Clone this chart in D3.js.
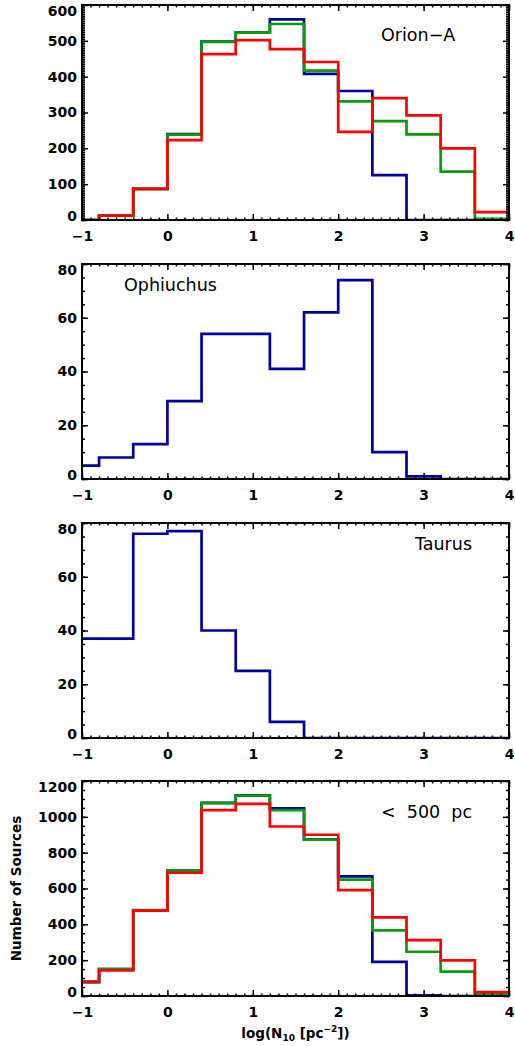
<!DOCTYPE html>
<html>
<head>
<meta charset="utf-8">
<script src="https://cdn.jsdelivr.net/npm/d3@7"></script>
<style>
  body { margin: 0; background: #fff; }
  text { font-family: "DejaVu Sans", sans-serif; }
</style>
</head>
<body>
<svg id="chart"></svg>
<script>
// bin edges of log(N10), width 0.4
const binEdges = [-1.2, -0.8, -0.4, 0.0, 0.4, 0.8, 1.2, 1.6, 2.0, 2.4, 2.8, 3.2, 3.6, 4.0];

// Orion-A
const orionBlue  = [0, 12, 87, 240, 498, 523, 560, 408, 360, 125, 0, 0, 0];
const orionGreen = [0, 12, 87, 238, 497, 523, 547, 417, 331, 276, 239, 135, 3];
const orionRed   = [0, 12, 87, 223, 463, 502, 477, 441, 246, 340, 292, 200, 22];

// Ophiuchus
const ophBlue = [5, 8, 13, 29, 54, 54, 41, 62, 74, 10, 1, 0, 0];

// Taurus
const taurusBlue = [37, 37, 76, 77, 40, 25, 6, 0, 0, 0, 0, 0, 0];

// < 500 pc
const allBlue  = [78, 150, 478, 700, 1078, 1120, 1048, 873, 668, 191, 3, 0, 0];
const allGreen = [78, 150, 480, 700, 1076, 1119, 1038, 873, 650, 366, 247, 136, 9];
const allRed   = [80, 143, 476, 688, 1037, 1072, 946, 900, 591, 439, 312, 199, 22];

const xTicks = [-1, 0, 1, 2, 3, 4];

const colBlue = "#00009c", colGreen = "#0a9a0a", colRed = "#ff0000";

const panels = [
  { name: "Orion\u2212A", top: 5, ymax: 600, step: 100, minor: 5,
    series: [[orionBlue, colBlue], [orionGreen, colGreen], [orionRed, colRed]],
    lx: 381, ly: 41 },
  { name: "Ophiuchus", top: 264, ymax: 80, step: 20, minor: 5,
    series: [[ophBlue, colBlue]], lx: 124, ly: 291 },
  { name: "Taurus", top: 523, ymax: 80, step: 20, minor: 5,
    series: [[taurusBlue, colBlue]], lx: 415, ly: 550 },
  { name: "<  500  pc", top: 781, ymax: 1200, step: 200, minor: 50,
    series: [[allBlue, colBlue], [allGreen, colGreen], [allRed, colRed]],
    lx: 381, ly: 818 }
];

const W = 515, H = 1046;
const left = 82, right = 509, ph = 215;

const svg = d3.select("#chart").attr("width", W).attr("height", H);

const x = d3.scaleLinear().domain([-1, 4]).range([left, right]);

panels.forEach((p, i) => {
  const bottom = p.top + ph;
  const y = d3.scaleLinear().domain([0, p.ymax]).range([bottom, p.top]);
  const g = svg.append("g");

  g.append("clipPath").attr("id", "clip" + i)
    .append("rect")
    .attr("x", left).attr("y", p.top - 2)
    .attr("width", right - left).attr("height", ph + 2);

  // histograms
  const line = d3.line()
    .x(d => x(d[0]))
    .y(d => y(d[1]))
    .curve(d3.curveStepAfter);

  p.series.forEach(([vals, col]) => {
    const pts = vals.map((v, k) => [binEdges[k], v]);
    pts.push([binEdges[binEdges.length - 1], vals[vals.length - 1]]);
    g.append("path")
      .attr("d", line(pts))
      .attr("fill", "none")
      .attr("stroke", col)
      .attr("stroke-width", 2.7)
      .attr("clip-path", "url(#clip" + i + ")");
  });

  // minor ticks
  const xMinor = d3.range(-10, 41).map(d => d / 10);
  const yMinor = d3.range(0, p.ymax + 0.001, p.minor);

  g.append("g").attr("transform", `translate(0,${bottom})`)
    .call(d3.axisBottom(x).tickValues(xMinor).tickSize(-2.5).tickFormat(""));
  g.append("g").attr("transform", `translate(0,${p.top})`)
    .call(d3.axisTop(x).tickValues(xMinor).tickSize(-2.5).tickFormat(""));
  g.append("g").attr("transform", `translate(${left},0)`)
    .call(d3.axisLeft(y).tickValues(yMinor).tickSize(-3).tickFormat(""));
  g.append("g").attr("transform", `translate(${right},0)`)
    .call(d3.axisRight(y).tickValues(yMinor).tickSize(-3).tickFormat(""));

  // major ticks
  const yTicks = d3.range(0, p.ymax + 0.001, p.step);

  const xb = g.append("g").attr("class", "xaxis")
    .attr("transform", `translate(0,${bottom})`)
    .call(d3.axisBottom(x).tickValues(xTicks).tickSize(-6).tickPadding(11).tickFormat(d3.format("d")));
  g.append("g").attr("transform", `translate(0,${p.top})`)
    .call(d3.axisTop(x).tickValues(xTicks).tickSize(-6).tickFormat(""));
  const yl = g.append("g").attr("class", "yaxis")
    .attr("transform", `translate(${left},0)`)
    .call(d3.axisLeft(y).tickValues(yTicks).tickSize(-6).tickPadding(5).tickFormat(d3.format("d")));
  g.append("g").attr("transform", `translate(${right},0)`)
    .call(d3.axisRight(y).tickValues(yTicks).tickSize(-6).tickFormat(""));

  g.selectAll(".domain").remove();
  g.selectAll(".tick line").attr("stroke", "#000").attr("stroke-width", 1.5);

  xb.selectAll("text")
    .attr("font-size", 14).attr("font-weight", "bold").attr("fill", "#000");
  yl.selectAll("text")
    .attr("font-size", 14).attr("font-weight", "bold").attr("fill", "#000");
  // end labels sit inside the frame a little
  yl.selectAll(".tick").filter(d => d === p.ymax).select("text").attr("y", 6);
  yl.selectAll(".tick").filter(d => d === 0).select("text").attr("y", -4);

  // frame
  g.append("rect")
    .attr("x", left).attr("y", p.top)
    .attr("width", right - left).attr("height", ph)
    .attr("fill", "none").attr("stroke", "#000").attr("stroke-width", 2);

  // panel label
  g.append("text")
    .attr("x", p.lx).attr("y", p.ly)
    .attr("font-size", 17.5)
    .attr("xml:space", "preserve")
    .style("white-space", "pre")
    .text(p.name);
});

// axis titles
svg.append("text")
  .attr("transform", `translate(21,${781 + ph / 2}) rotate(-90)`)
  .attr("text-anchor", "middle")
  .attr("font-size", 13.5).attr("font-weight", "bold")
  .text("Number of Sources");

const xt = svg.append("text")
  .attr("x", (left + right) / 2).attr("y", 1038)
  .attr("text-anchor", "middle")
  .attr("font-size", 13.5).attr("font-weight", "bold");
xt.append("tspan").text("log(N");
xt.append("tspan").attr("font-size", 9).attr("dy", 3).text("10");
xt.append("tspan").attr("dy", -3).text(" [pc");
xt.append("tspan").attr("font-size", 9).attr("dy", -6).text("\u22122");
xt.append("tspan").attr("dy", 6).text("])");
</script>
</body>
</html>
